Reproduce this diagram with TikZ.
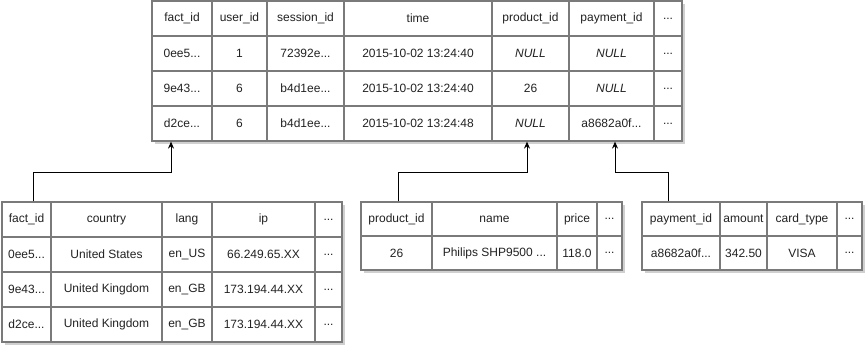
\documentclass[tikz,border=0pt]{standalone}
\usepackage{fontspec}
\setmainfont{Liberation Sans}
\usetikzlibrary{arrows.meta}
\definecolor{gridline}{HTML}{7A7A7A}
\definecolor{shade}{HTML}{D0D0D0}
\definecolor{ink}{HTML}{222222}
\tikzset{
  cellbox/.style={draw=gridline, line width=1.2pt, fill=white, inner sep=0pt,
    text=ink, font=\fontsize{12}{14}\selectfont, anchor=center},
  shadowbox/.style={fill=shade, draw=none},
  conn/.style={draw=black, line width=1pt,
    -{Stealth[length=7pt,width=6pt]}},
}
% \tcell{name}{x1}{y1}{x2}{y2}{text}
\newcommand{\tcell}[6]{%
  \node[cellbox, minimum width={(#4)-(#2)}, minimum height={(#5)-(#3)}]
    (#1) at ({((#2)+(#4))/2},{((#3)+(#5))/2}) {#6};}
\begin{document}
\begin{tikzpicture}[x=1pt,y=-1pt]
\useasboundingbox (0,0) rectangle (865,346);

% ---------- fact table ----------
\fill[shadowbox] (155,4) rectangle (685,144);
\tcell{t01}{152}{1}{212}{36}{fact\_id}
\tcell{t02}{212}{1}{267}{36}{user\_id}
\tcell{t03}{267}{1}{344}{36}{session\_id}
\tcell{t04}{344}{1}{492}{36}{time}
\tcell{t05}{492}{1}{569}{36}{product\_id}
\tcell{t06}{569}{1}{654}{36}{payment\_id}
\tcell{t07}{654}{1}{682}{36}{...}
\tcell{t11}{152}{36}{212}{71}{0ee5...}
\tcell{t12}{212}{36}{267}{71}{1}
\tcell{t13}{267}{36}{344}{71}{72392e...}
\tcell{t14}{344}{36}{492}{71}{2015-10-02 13:24:40}
\tcell{t15}{492}{36}{569}{71}{\itshape NULL}
\tcell{t16}{569}{36}{654}{71}{\itshape NULL}
\tcell{t17}{654}{36}{682}{71}{...}
\tcell{t21}{152}{71}{212}{106}{9e43...}
\tcell{t22}{212}{71}{267}{106}{6}
\tcell{t23}{267}{71}{344}{106}{b4d1ee...}
\tcell{t24}{344}{71}{492}{106}{2015-10-02 13:24:40}
\tcell{t25}{492}{71}{569}{106}{26}
\tcell{t26}{569}{71}{654}{106}{\itshape NULL}
\tcell{t27}{654}{71}{682}{106}{...}
\tcell{t31}{152}{106}{212}{141}{d2ce...}
\tcell{t32}{212}{106}{267}{141}{6}
\tcell{t33}{267}{106}{344}{141}{b4d1ee...}
\tcell{t34}{344}{106}{492}{141}{2015-10-02 13:24:48}
\tcell{t35}{492}{106}{569}{141}{\itshape NULL}
\tcell{t36}{569}{106}{654}{141}{a8682a0f...}
\tcell{t37}{654}{106}{682}{141}{...}

% ---------- session table ----------
\fill[shadowbox] (5,205) rectangle (345,345);
\tcell{l01}{2}{202}{51}{237}{fact\_id}
\tcell{l02}{51}{202}{162}{237}{country}
\tcell{l03}{162}{202}{212}{237}{lang}
\tcell{l04}{212}{202}{315}{237}{ip}
\tcell{l05}{315}{202}{342}{237}{...}
\tcell{l11}{2}{237}{51}{272}{0ee5...}
\tcell{l12}{51}{237}{162}{272}{United States}
\tcell{l13}{162}{237}{212}{272}{en\_US}
\tcell{l14}{212}{237}{315}{272}{66.249.65.XX}
\tcell{l15}{315}{237}{342}{272}{...}
\tcell{l21}{2}{272}{51}{307}{9e43...}
\tcell{l22}{51}{272}{162}{307}{United Kingdom}
\tcell{l23}{162}{272}{212}{307}{en\_GB}
\tcell{l24}{212}{272}{315}{307}{173.194.44.XX}
\tcell{l25}{315}{272}{342}{307}{...}
\tcell{l31}{2}{307}{51}{342}{d2ce...}
\tcell{l32}{51}{307}{162}{342}{United Kingdom}
\tcell{l33}{162}{307}{212}{342}{en\_GB}
\tcell{l34}{212}{307}{315}{342}{173.194.44.XX}
\tcell{l35}{315}{307}{342}{342}{...}

% ---------- product table ----------
\fill[shadowbox] (364,205) rectangle (625,273);
\tcell{p01}{361}{202}{432}{236}{product\_id}
\tcell{p02}{432}{202}{557}{236}{name}
\tcell{p03}{557}{202}{597}{236}{price}
\tcell{p04}{597}{202}{622}{236}{...}
\tcell{p11}{361}{236}{432}{270}{26}
\tcell{p12}{432}{236}{557}{270}{Philips SHP9500 ...}
\tcell{p13}{557}{236}{597}{270}{118.0}
\tcell{p14}{597}{236}{622}{270}{...}

% ---------- payment table ----------
\fill[shadowbox] (645,205) rectangle (865,273);
\tcell{y01}{642}{202}{720}{236}{payment\_id}
\tcell{y02}{720}{202}{767}{236}{amount}
\tcell{y03}{767}{202}{837}{236}{card\_type}
\tcell{y04}{837}{202}{862}{236}{...}
\tcell{y11}{642}{236}{720}{270}{a8682a0f...}
\tcell{y12}{720}{236}{767}{270}{342.50}
\tcell{y13}{767}{236}{837}{270}{VISA}
\tcell{y14}{837}{236}{862}{270}{...}

% ---------- references into the fact table ----------
\draw[conn] ([xshift=6.5pt]l01.north) -- ([xshift=6.5pt]l01.north |- 0,172)
  -| ([xshift=-11pt]t31.south);
\draw[conn] ([xshift=1.5pt]p01.north) -- ([xshift=1.5pt]p01.north |- 0,172)
  -| ([xshift=-3.5pt]t35.south);
\draw[conn] ([xshift=-13pt]y01.north) -- ([xshift=-13pt]y01.north |- 0,172)
  -| ([xshift=3.5pt]t36.south);
\end{tikzpicture}
\end{document}
